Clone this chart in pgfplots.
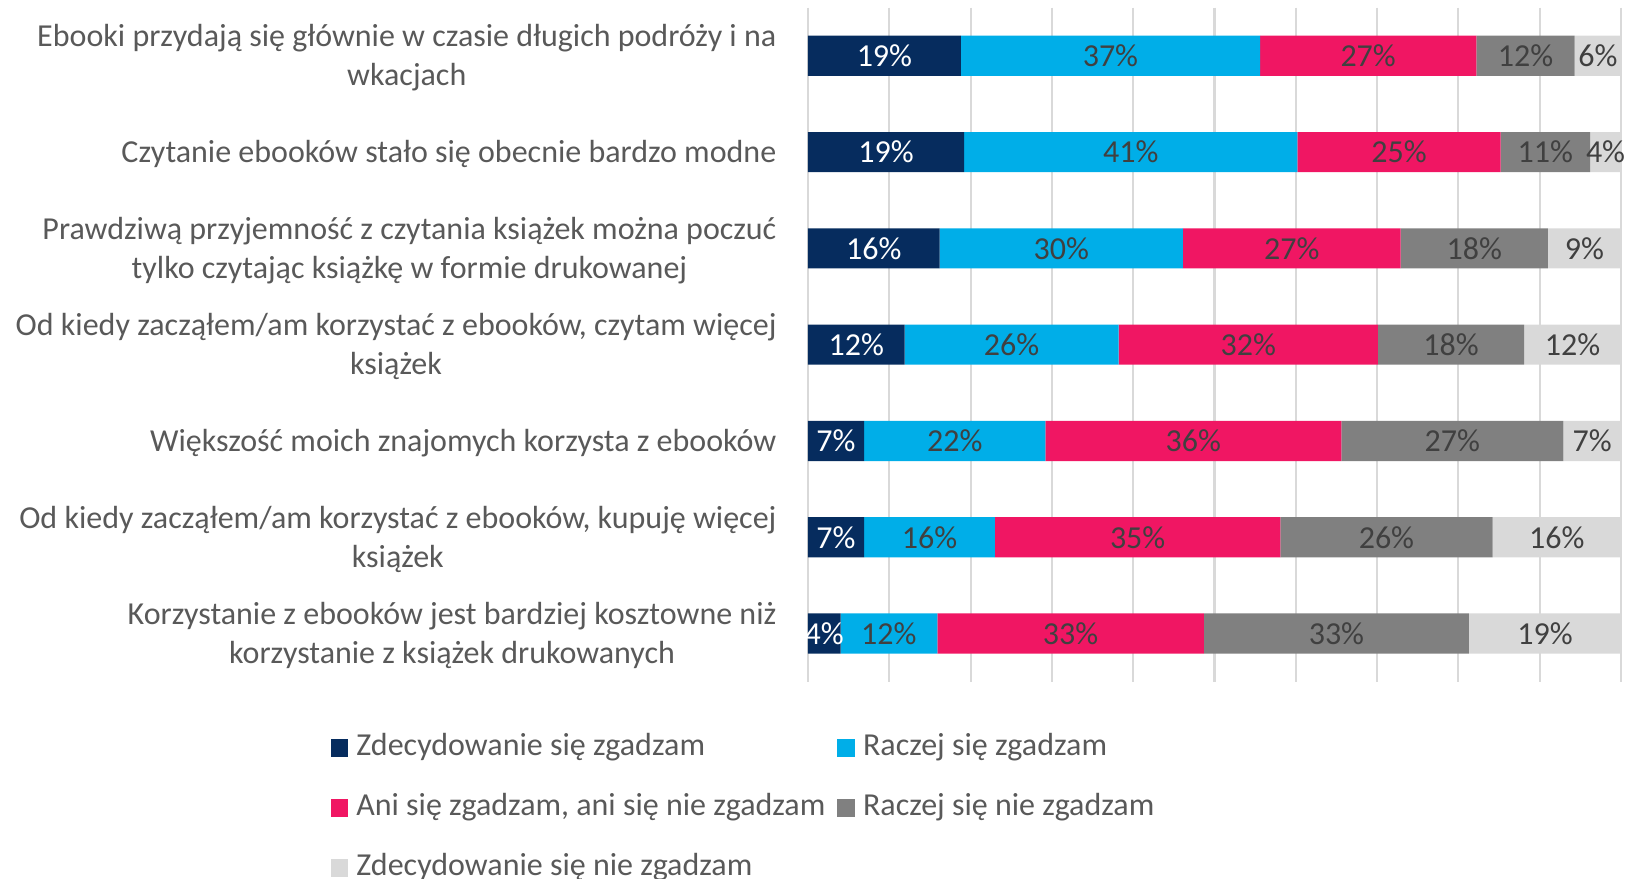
\documentclass[border=0pt]{standalone}
\usepackage{pgfplots}
\usepackage{pgfplotstable}
\usepackage{fontspec}
\setmainfont{Carlito}
\pgfplotsset{compat=1.18}
\definecolor{cnavy}{RGB}{6,44,94}
\definecolor{ccyan}{RGB}{0,174,232}
\definecolor{cpink}{RGB}{240,22,99}
\definecolor{cgray}{RGB}{128,128,128}
\definecolor{clight}{RGB}{217,217,217}
\definecolor{cgrid}{RGB}{217,217,217}
\definecolor{labgray}{RGB}{89,89,89}
\definecolor{labdark}{RGB}{64,64,64}
\pgfplotstableread{
row a b c d e
0 18.8 36.8 26.6 12.1 5.7
1 19.2 41.0 25.0 11.0 3.8
2 16.2 29.9 26.8 18.1 9.0
3 11.9 26.3 31.9 18.0 11.9
4 6.9 22.3 36.4 27.3 7.1
5 6.9 16.1 35.1 26.1 15.8
6 4.0 11.9 32.8 32.6 18.7
}\datatable
\begin{document}
\begin{tikzpicture}
\pgfplotsset{
  common/.style={scale only axis, width=243.9pt, height=202.2pt,
    xmin=0, xmax=100, ymin=-0.5, ymax=6.5, y dir=reverse,
    at={(0,0)}, anchor=south west},
  lab/.style={draw=none, nodes near coords={\pgfmathprintnumber[fixed,precision=0,assume math mode=true]{\pgfplotspointmeta}\%},
    every node near coord/.append style={anchor=center, inner sep=0pt, font=\fontsize{9.6}{11}\selectfont, text=#1}},
}
\begin{axis}[common, xbar stacked, bar width=0.417,
  xtick={0,10,...,100}, xticklabels={}, xmajorgrids,
  grid style={draw=cgrid, line width=0.65pt},
  axis line style={draw=none}, tick style={draw=none},
  ytick={0,...,6},
  yticklabels={{Ebooki przydają się głównie w czasie długich podróży i na\\wkacjach},
    {Czytanie ebooków stało się obecnie bardzo modne},
    {Prawdziwą przyjemność z czytania książek można poczuć\\tylko czytając książkę w formie drukowanej},
    {Od kiedy zacząłem/am korzystać z ebooków, czytam więcej\\książek},
    {Większość moich znajomych korzysta z ebooków},
    {Od kiedy zacząłem/am korzystać z ebooków, kupuję więcej\\książek},
    {Korzystanie z ebooków jest bardziej kosztowne niż\\korzystanie z książek drukowanych}},
  yticklabel style={align=center, inner sep=0pt, font=\fontsize{9.6}{11.8}\selectfont, text=labgray, yshift=-0.6pt},
  yticklabel shift=9.3pt,
  legend columns=2,
  legend cell align=left,
  legend image code/.code={\fill[#1] (0pt,-2.6pt) rectangle (5.2pt,2.6pt);},
  legend style={draw=none, fill=none, at={(-0.588,-0.075)}, anchor=north west, inner sep=0pt,
    font=\fontsize{9.6}{11.8}\selectfont, text=labgray, row sep=9pt,
    nodes={inner sep=0pt, text height=6.8pt, text depth=2.2pt},
    /tikz/every odd column/.append style={column sep=2.5pt},
    /tikz/every even column/.append style={column sep=3.6pt}},
]
\addplot[fill=cnavy, draw=none] table[x=a, y=row]{\datatable};
\addlegendentry{Zdecydowanie się zgadzam}
\addplot[fill=ccyan, draw=none] table[x=b, y=row]{\datatable};
\addlegendentry{Raczej się zgadzam}
\addplot[fill=cpink, draw=none] table[x=c, y=row]{\datatable};
\addlegendentry{Ani się zgadzam, ani się nie zgadzam}
\addplot[fill=cgray, draw=none] table[x=d, y=row]{\datatable};
\addlegendentry{Raczej się nie zgadzam}
\addplot[fill=clight, draw=none] table[x=e, y=row]{\datatable};
\addlegendentry{Zdecydowanie się nie zgadzam}
\end{axis}
\begin{axis}[common, hide axis]
\addplot[lab=white, point meta=\thisrow{a}] table[x expr=\thisrow{a}/2, y=row]{\datatable};
\addplot[lab=labdark, point meta=\thisrow{b}] table[x expr=\thisrow{a}+\thisrow{b}/2, y=row]{\datatable};
\addplot[lab=labdark, point meta=\thisrow{c}] table[x expr=\thisrow{a}+\thisrow{b}+\thisrow{c}/2, y=row]{\datatable};
\addplot[lab=labdark, point meta=\thisrow{d}] table[x expr=\thisrow{a}+\thisrow{b}+\thisrow{c}+\thisrow{d}/2, y=row]{\datatable};
\addplot[lab=labdark, point meta=\thisrow{e}] table[x expr=\thisrow{a}+\thisrow{b}+\thisrow{c}+\thisrow{d}+\thisrow{e}/2, y=row]{\datatable};
\end{axis}
\pgfresetboundingbox
\path (-242.4pt,-59.2pt) rectangle (245.4pt,204.5pt);
\end{tikzpicture}
\end{document}
